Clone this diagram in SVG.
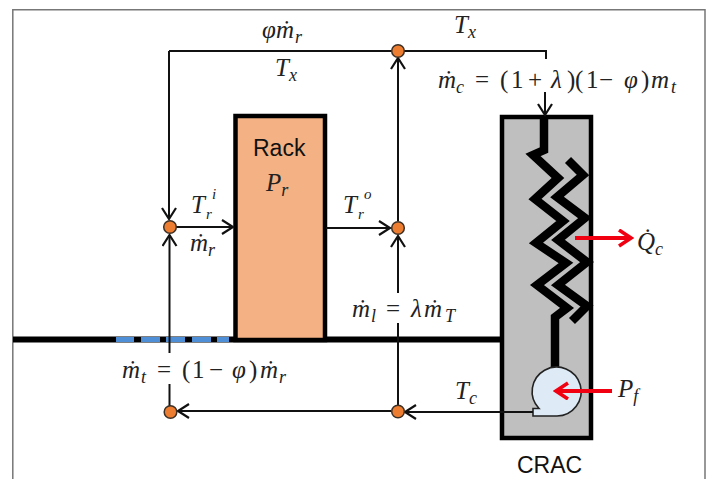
<svg xmlns="http://www.w3.org/2000/svg" width="708" height="479" viewBox="0 0 708 479">
<defs>
<marker id="ah" markerUnits="userSpaceOnUse" markerWidth="16" markerHeight="18" refX="13" refY="8" orient="auto"><path d="M2,1 L13,8 L2,15" fill="none" stroke="#111" stroke-width="2.2"/></marker>
<marker id="rh" markerUnits="userSpaceOnUse" markerWidth="18" markerHeight="20" refX="15" refY="9" orient="auto"><path d="M3,1 L15,9 L3,17" fill="none" stroke="#f00010" stroke-width="3.6"/></marker>
</defs>
<style>
.ln{fill:none;stroke:#111;stroke-width:2}
.a{marker-end:url(#ah)}
.red{fill:none;stroke:#f00010;stroke-width:3.8;marker-end:url(#rh)}
.nd{fill:#ed7d31;stroke:#3c3026;stroke-width:1.5}
.m{font-family:"Liberation Serif",serif;font-size:25px;font-style:italic;fill:#222}
.u{font-style:normal}
.s{font-size:18px}
.t{font-size:15px}
.l{font-family:"Liberation Sans",sans-serif;font-size:23px;fill:#111}
.coil{fill:none;stroke:#000;stroke-width:8.500;stroke-linejoin:miter;stroke-miterlimit:8}
</style>
<rect width="708" height="479" fill="#fff"/>
<path d="M12.8,479 V9.7 H705 V479" fill="none" stroke="#777" stroke-width="1.5"/>
<g id="floor">
<path d="M13,339.5 H500" stroke="#000" stroke-width="6" fill="none"/>
<path d="M116,339.5 H134 M141,339.5 H160 M166,339.5 H185 M192,339.5 H211 M217,339.5 H229" stroke="#4f8fd8" stroke-width="5" fill="none"/>
</g>
<g id="rack">
<rect x="235.5" y="116" width="89.5" height="224" fill="#f4b183" stroke="#000" stroke-width="4.5"/>
<text class="l" x="253" y="156">Rack</text>
<text class="m" x="266" y="191">P<tspan class="s" dy="5">r</tspan></text>
</g>
<g id="crac">
<rect x="502" y="117" width="89" height="321" fill="#bfbfbf" stroke="#000" stroke-width="4.5"/>
<path class="coil" d="M544,115 V150 L533,155 L558,178 L535,199 L563,221 L536,243 L566,263 L537,285 L567,308 L555,317 V367"/>
<path class="coil" d="M568,160 L583,175 L557,197 L585,218 L558,240 L587,262 L558,285 L587,306 L572,321"/>
<path d="M533,416 V408.500 H539 A24.5,24.5 0 1 1 557,416 Z" fill="#deebf7" stroke="#222" stroke-width="1.6"/>
<text class="l" x="517" y="473">CRAC</text>
</g>
<g id="connectors">
<path class="ln" d="M169,51 H546 V59"/>
<path class="ln a" d="M169,51 V219"/>
<path class="ln a" d="M169.5,353 V235"/>
<path class="ln" d="M169.5,384 V411"/>
<path class="ln a" d="M176,227 H233"/>
<path class="ln a" d="M326,228 H390"/>
<path class="ln a" d="M398,293 V236"/>
<path class="ln a" d="M398,221 V58"/>
<path class="ln" d="M398,323 V411"/>
<path class="ln a" d="M545,92 V115"/>
<path class="ln a" d="M533,412 H405"/>
<path class="ln a" d="M391,411 H178"/>
<path class="red" d="M575,238 H631"/>
<path class="red" d="M612,391 H556"/>
</g>
<g id="n1"><circle class="nd" cx="398" cy="51" r="6.3"/></g>
<g id="n2"><circle class="nd" cx="170" cy="227" r="6.3"/></g>
<g id="n3"><circle class="nd" cx="398" cy="228" r="6.3"/></g>
<g id="n4"><circle class="nd" cx="170.500" cy="412" r="6.3"/></g>
<g id="n5"><circle class="nd" cx="398" cy="411.500" r="6.3"/></g>
<g id="labels">
<text class="m" x="262" y="38">φ<tspan x="276">ṁ</tspan><tspan class="s" x="295" dy="5">r</tspan></text>
<text class="m" x="275" y="76">T<tspan class="s" dy="5">x</tspan></text>
<text class="m" x="454" y="33">T<tspan class="s" dy="5">x</tspan></text>
<text class="m" y="88"><tspan x="438">ṁ</tspan><tspan class="s" x="456" dy="5">c</tspan><tspan class="u" x="475" dy="-5">=</tspan><tspan class="u" x="500">(</tspan><tspan class="u" x="511">1</tspan><tspan class="u" x="528">+</tspan><tspan x="551">λ</tspan><tspan class="u" x="567">)</tspan><tspan class="u" x="575">(</tspan><tspan class="u" x="586">1</tspan><tspan class="u" x="599">−</tspan><tspan x="624">φ</tspan><tspan class="u" x="641">)</tspan><tspan x="651">m</tspan><tspan class="s" x="671" dy="5">t</tspan></text>
<text class="m" x="191" y="213">T<tspan class="t" x="206" dy="6">r</tspan><tspan class="t" x="212" dy="-20">i</tspan></text>
<text class="m" x="343" y="213">T<tspan class="t" x="358" dy="6">r</tspan><tspan class="t" x="364" dy="-20">o</tspan></text>
<text class="m" x="190" y="251">ṁ<tspan class="s" x="208" dy="5">r</tspan></text>
<text class="m" y="317"><tspan x="352">ṁ</tspan><tspan class="s" x="371" dy="5">l</tspan><tspan class="u" x="386" dy="-5">=</tspan><tspan x="411">λ</tspan><tspan x="424">ṁ</tspan><tspan class="s" x="445" dy="5">T</tspan></text>
<text class="m" y="378"><tspan x="122">ṁ</tspan><tspan class="s" x="141" dy="5">t</tspan><tspan class="u" x="157" dy="-5">=</tspan><tspan class="u" x="182">(</tspan><tspan class="u" x="192">1</tspan><tspan class="u" x="209">−</tspan><tspan x="232">φ</tspan><tspan class="u" x="249">)</tspan><tspan x="260">ṁ</tspan><tspan class="s" x="279" dy="5">r</tspan></text>
<text class="m" x="455" y="399">T<tspan class="s" dy="5">c</tspan></text>
<text class="m" x="618" y="397">P<tspan class="s" dy="5">f</tspan></text>
<text class="m" x="637" y="250">Q̇<tspan class="s" dy="5">c</tspan></text>
</g>
</svg>
